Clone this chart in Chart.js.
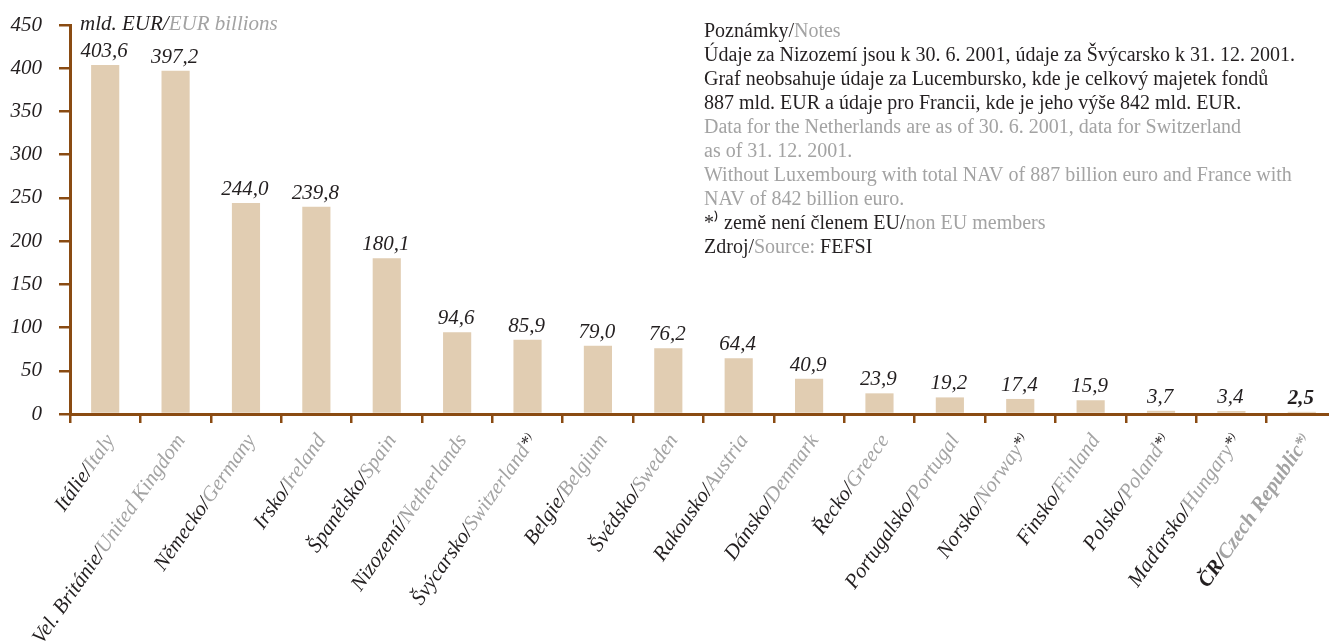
<!DOCTYPE html>
<html>
<head>
<meta charset="utf-8">
<script src="https://cdn.jsdelivr.net/npm/chart.js@4/dist/chart.umd.min.js"></script>
<style>
  html, body { margin: 0; padding: 0; background: #fff; overflow: hidden; }
  #wrap { width: 1337px; height: 644px; }
</style>
</head>
<body>
<div id="wrap"><canvas id="chart" width="1337" height="644"></canvas></div>
<script>
const countriesCz = ['Itálie/', 'Vel. Británie/', 'Německo/', 'Irsko/', 'Španělsko/', 'Nizozemí/', 'Švýcarsko/', 'Belgie/', 'Švédsko/',
  'Rakousko/', 'Dánsko/', 'Řecko/', 'Portugalsko/', 'Norsko/', 'Finsko/', 'Polsko/', 'Maďarsko/', 'ČR/'];
const countriesEn = ['Italy', 'United Kingdom', 'Germany', 'Ireland', 'Spain', 'Netherlands', 'Switzerland', 'Belgium', 'Sweden',
  'Austria', 'Denmark', 'Greece', 'Portugal', 'Norway', 'Finland', 'Poland', 'Hungary', 'Czech Republic'];
const nonEu = [false, false, false, false, false, false, true, false, false, false, false, false, false, true, false, true, true, true];
const assets = [403.6, 397.2, 244.0, 239.8, 180.1, 94.6, 85.9, 79.0, 76.2, 64.4, 40.9, 23.9, 19.2, 17.4, 15.9, 3.7, 3.4, 2.5];
const yTicks = [0, 50, 100, 150, 200, 250, 300, 350, 400, 450];

const unitCz = 'mld. EUR/';
const unitEn = 'EUR billions';
// notes: each line is a list of [text, isGray]
const notes = [
  [['Poznámky/', false], ['Notes', true]],
  [['Údaje za Nizozemí jsou k 30. 6. 2001, údaje za Švýcarsko k 31. 12. 2001.', false]],
  [['Graf neobsahuje údaje za Lucembursko, kde je celkový majetek fondů', false]],
  [['887 mld. EUR a údaje pro Francii, kde je jeho výše 842 mld. EUR.', false]],
  [['Data for the Netherlands are as of 30. 6. 2001, data for Switzerland', true]],
  [['as of 31. 12. 2001.', true]],
  [['Without Luxembourg with total NAV of 887 billion euro and France with', true]],
  [['NAV of 842 billion euro.', true]],
  [['*⁾ země není členem EU/', false], ['non EU members', true]],
  [['Zdroj/', false], ['Source: ', true], ['FEFSI', false]]
];

const dark = '#231f20';
const gray = '#a3a3a3';
const brown = '#8a4b12';
const barColor = '#e1cdb2';
const serif = '"Liberation Serif", "Times New Roman", serif';

const fmt = v => v.toFixed(1).replace('.', ',');
const lastIdx = assets.length - 1;

const textPlugin = {
  id: 'texts',
  afterDraw(chart) {
    const ctx = chart.ctx;
    const x = chart.scales.x;
    const y = chart.scales.y;
    ctx.save();

    // value labels above bars
    ctx.textAlign = 'center';
    ctx.textBaseline = 'alphabetic';
    ctx.fillStyle = dark;
    assets.forEach((v, i) => {
      ctx.font = (i === lastIdx ? 'italic bold ' : 'italic ') + '21px ' + serif;
      ctx.fillText(fmt(v), x.getPixelForValue(i) - 1, y.getPixelForValue(v) - 8);
    });

    // unit title
    ctx.textAlign = 'left';
    ctx.font = 'italic 21px ' + serif;
    ctx.fillStyle = dark;
    ctx.fillText(unitCz, 80, 30);
    const w = ctx.measureText(unitCz).width;
    ctx.fillStyle = gray;
    ctx.fillText(unitEn, 80 + w, 30);

    // rotated category labels
    countriesCz.forEach((cz, i) => {
      const bold = i === lastIdx;
      const style = bold ? 'italic bold ' : 'italic ';
      const f = style + '21px ' + serif;
      ctx.font = f;
      const w1 = ctx.measureText(cz).width;
      const w2 = ctx.measureText(countriesEn[i]).width;
      ctx.font = style + '18px ' + serif;
      const wa = ctx.measureText('*').width;
      ctx.font = style + '11px ' + serif;
      const wp = ctx.measureText(')').width;
      const w3 = nonEu[i] ? wa + wp : 0;
      const total = w1 + w2 + w3;
      ctx.save();
      ctx.translate(x.getPixelForValue(i) + 10, 440);
      ctx.rotate(-55 * Math.PI / 180);
      ctx.textAlign = 'left';
      ctx.font = f;
      ctx.fillStyle = dark;
      ctx.fillText(cz, -total, 0);
      ctx.fillStyle = gray;
      ctx.fillText(countriesEn[i], -total + w1, 0);
      if (nonEu[i]) {
        ctx.fillStyle = bold ? gray : dark;
        ctx.font = style + '18px ' + serif;
        ctx.fillText('*', -w3, -2);
        ctx.font = style + '11px ' + serif;
        ctx.fillText(')', -wp, -7);
      }
      ctx.restore();
    });

    // notes
    ctx.textAlign = 'left';
    ctx.font = '20px ' + serif;
    notes.forEach((line, k) => {
      let px = 704;
      line.forEach(([t, g]) => {
        ctx.fillStyle = g ? gray : dark;
        ctx.fillText(t, px, 37 + 24 * k);
        px += ctx.measureText(t).width;
      });
    });

    ctx.restore();
  }
};

new Chart(document.getElementById('chart'), {
  type: 'bar',
  data: {
    labels: countriesEn,
    datasets: [{
      data: assets,
      backgroundColor: barColor,
      barPercentage: 0.4,
      categoryPercentage: 1
    }]
  },
  options: {
    responsive: false,
    animation: false,
    layout: { padding: { top: 25, right: 0, left: 0, bottom: 0 } },
    plugins: { legend: { display: false }, tooltip: { enabled: false } },
    scales: {
      x: {
        afterFit: s => { s.height = 230; },
        ticks: { display: false },
        border: { display: true, color: brown, width: 3 },
        grid: { drawOnChartArea: false, drawTicks: true, tickLength: 9, color: brown, lineWidth: 2.5, offset: true }
      },
      y: {
        min: 0,
        max: 450,
        afterFit: s => { s.width = 70; s.paddingTop = 0; s.paddingBottom = 0; },
        afterBuildTicks: s => { s.ticks = yTicks.map(v => ({ value: v })); },
        ticks: {
          padding: 17,
          color: dark,
          font: { family: serif, size: 21, style: 'italic', lineHeight: 1 }
        },
        border: { display: true, color: brown, width: 3 },
        grid: { drawOnChartArea: false, drawTicks: true, tickLength: 11, color: brown, lineWidth: 2.5 }
      }
    }
  },
  plugins: [textPlugin]
});
</script>
</body>
</html>
